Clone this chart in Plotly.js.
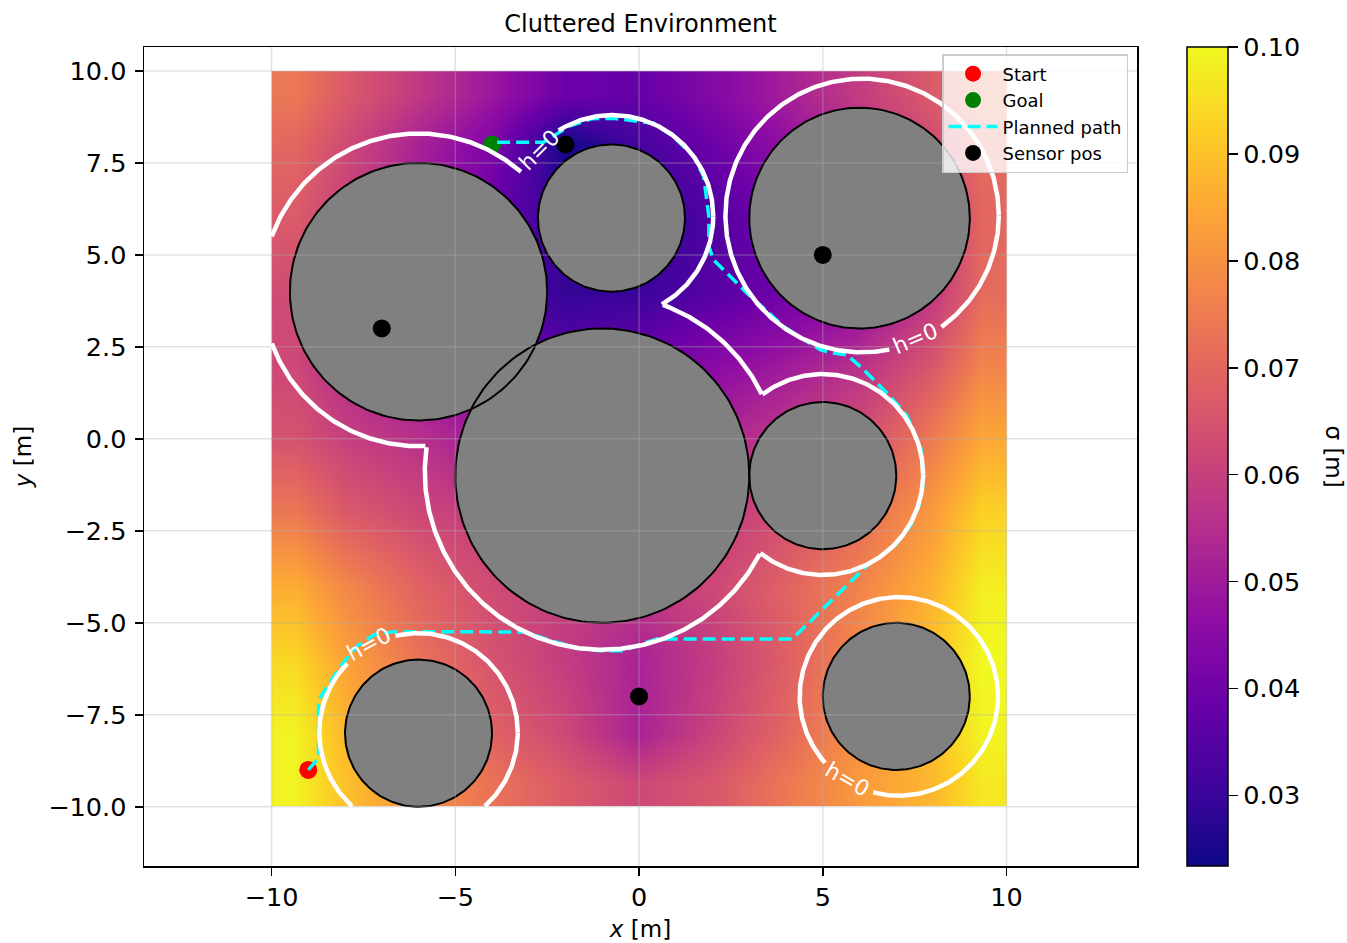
<!DOCTYPE html>
<html><head><meta charset="utf-8">
<script src="https://cdn.plot.ly/plotly-3.0.1.min.js"></script>
<style>html,body{margin:0;padding:0;background:#fff}</style>
</head><body><div id="chart" style="width:1347px;height:943px"></div>
<script>
const gridX = [-9.33, -8, -6, -4, -2, 0, 2, 4, 6, 8, 9.33];
const gridY = [-9.33, -8, -6, -4, -2, 0, 2, 4, 6, 8, 9.33];
// rows: bottom (y=-9.33) to top (y=9.33); columns: x = gridX
const sigma = [
  [0.099,0.090,0.080,0.073,0.067,0.062,0.066,0.074,0.082,0.088,0.097],
  [0.099,0.088,0.078,0.069,0.062,0.052,0.061,0.070,0.080,0.090,0.099],
  [0.094,0.084,0.073,0.065,0.059,0.052,0.059,0.068,0.078,0.090,0.100],
  [0.086,0.078,0.069,0.063,0.059,0.058,0.062,0.069,0.077,0.087,0.098],
  [0.074,0.067,0.062,0.058,0.055,0.055,0.058,0.064,0.071,0.082,0.093],
  [0.065,0.060,0.056,0.050,0.048,0.049,0.053,0.058,0.064,0.075,0.085],
  [0.062,0.055,0.048,0.042,0.037,0.040,0.045,0.050,0.056,0.066,0.077],
  [0.063,0.056,0.045,0.036,0.029,0.030,0.035,0.040,0.046,0.058,0.071],
  [0.067,0.060,0.050,0.038,0.029,0.027,0.034,0.041,0.050,0.058,0.070],
  [0.070,0.063,0.052,0.043,0.024,0.032,0.039,0.047,0.055,0.063,0.071],
  [0.074,0.067,0.058,0.049,0.039,0.038,0.044,0.051,0.059,0.067,0.074]
];
const sigmaMin = 0.0234, sigmaMax = 0.100;
const cbTicks = [0.03, 0.04, 0.05, 0.06, 0.07, 0.08, 0.09, 0.10];

// ---- obstacles ----
const obsX = [-6, -0.75, 6, -1, 5, 7, -6];
const obsY = [4, 6, 6, -1, -1, -7, -8];
const obsR = [3.5, 2, 3, 4, 2, 2, 2];

// ---- safety boundary h=0 (one ring per obstacle) ----
const ringX = [-6.0, -0.73, 6.07, -1.0, 5.0, 7.07, -6.0];
const ringY = [4.05, 6.05, 6.07, -0.9, -0.97, -7.0, -7.98];
const ringR = [4.25, 2.75, 3.72, 4.83, 2.73, 2.70, 2.70];
const labelX = [-2.73, 7.52, -7.36, 5.67];
const labelY = [7.85, 2.74, -5.6, -9.27];
const labelAngle = [-45, -23, -28, 30];
const labelText = 'h=0';

// ---- sensors, start, goal ----
const sensX = [-2, 5, -7, 0];
const sensY = [8, 5, 3, -7];
const startPt = [-9, -9];
const goalPt = [-4, 8];

// ---- planned path (start -> goal) ----
const pathX = [-9, -8.72, -8.72, -8.49, -8.13, -7.68, -7.22, -6.68, -3.14, -2.6, -1.69, -1.05, -0.42, 0.13, 0.49, 4.17, 5.48, 6.2, 6.95, 7.39, 7.67, 7.76, 7.67, 7.30, 6.84, 6.39, 6.03, 5.66, 5.30, 4.94, 4.49, 3.94, 2.94, 2.03, 1.90, 1.90, 1.76, 1.49, 0.94, 0.40, -0.69, -1.3, -1.9, -2.6, -4];
const pathY = [-9, -8.68, -7.1, -6.73, -6.19, -5.64, -5.33, -5.24, -5.25, -5.42, -5.69, -5.76, -5.76, -5.55, -5.44, -5.44, -4.15, -3.45, -2.92, -2.35, -1.68, -0.97, -0.26, 0.61, 1.15, 1.60, 1.96, 2.28, 2.33, 2.42, 2.69, 3.05, 3.96, 4.86, 5.23, 6.04, 7.13, 7.67, 8.21, 8.58, 8.71, 8.7, 8.5, 8.06, 8.06];

// ---- axes ----
const xTicks = [-10, -5, 0, 5, 10];
const yTicks = [-10, -7.5, -5, -2.5, 0, 2.5, 5, 7.5, 10];
const xRange = [-13.47, 13.55];
const yRange = [-11.61, 10.65];
const domain = [-10, 10];

const plasma = [
  [0.0,'#0d0887'],[0.1,'#41049d'],[0.2,'#6a00a8'],[0.3,'#8f0da4'],[0.4,'#b12a90'],
  [0.5,'#cc4778'],[0.6,'#e16462'],[0.7,'#f2844b'],[0.8,'#fca636'],[0.9,'#fcce25'],[1.0,'#f0f921']
];
const FONT = 'DejaVu Sans, Arial, sans-serif';
const TICKSIZE = 25.5;

// obstacle polygons
const cx = [], cy = [];
obsX.forEach((ox, i) => {
  for (let k = 0; k <= 180; k++) {
    const t = 2 * Math.PI * k / 180;
    cx.push(ox + obsR[i] * Math.cos(t));
    cy.push(obsY[i] + obsR[i] * Math.sin(t));
  }
  cx.push(null); cy.push(null);
});

// union boundary of rings, clipped to domain and label gaps
const gap = 0.76;
const hx = [], hy = [];
ringX.forEach((rx, i) => {
  const N = 720;
  let prevVisible = false;
  for (let k = 0; k <= N; k++) {
    const t = 2 * Math.PI * k / N;
    const px = rx + ringR[i] * Math.cos(t), py = ringY[i] + ringR[i] * Math.sin(t);
    let vis = px >= domain[0] && px <= domain[1] && py >= domain[0] && py <= domain[1];
    for (let j = 0; vis && j < ringX.length; j++) {
      if (j !== i && Math.hypot(px - ringX[j], py - ringY[j]) < ringR[j]) vis = false;
    }
    for (let m = 0; vis && m < labelX.length; m++) {
      if (Math.hypot(px - labelX[m], py - labelY[m]) < gap) vis = false;
    }
    if (vis) { hx.push(px); hy.push(py); }
    else if (prevVisible) { hx.push(null); hy.push(null); }
    prevVisible = vis;
  }
  hx.push(null); hy.push(null);
});

// grid lines (matplotlib draws them above image/patches)
const gx = [], gy = [];
xTicks.forEach(v => { gx.push(v, v, null); gy.push(yRange[0], yRange[1], null); });
yTicks.forEach(v => { gx.push(xRange[0], xRange[1], null); gy.push(v, v, null); });

const traces = [
  { type: 'heatmap', x: gridX, y: gridY, z: sigma, zsmooth: 'best', colorscale: plasma,
    zmin: sigmaMin, zmax: sigmaMax, hoverinfo: 'skip', showlegend: false,
    colorbar: { x: (1187 - 144) / 993, xanchor: 'left', xpad: 0, ypad: 0, y: 0.5, yanchor: 'middle',
      len: 1, lenmode: 'fraction', thickness: 41, thicknessmode: 'pixels',
      outlinecolor: 'black', outlinewidth: 1.5, ticks: 'outside', ticklen: 10, tickwidth: 1.5,
      tickcolor: 'black', tickvals: cbTicks, tickformat: '.2f', tickprefix: '\u2009',
      tickfont: { size: TICKSIZE, family: FONT, color: 'black' } } },
  { type: 'scatter', mode: 'lines', x: cx, y: cy, fill: 'toself', fillcolor: '#808080',
    line: { color: 'black', width: 2 }, hoverinfo: 'skip', showlegend: false },
  { type: 'scatter', mode: 'lines', x: gx, y: gy, line: { color: 'rgba(176,176,176,0.35)', width: 1.5 },
    hoverinfo: 'skip', showlegend: false },
  { type: 'scatter', mode: 'markers', name: 'Start', x: [startPt[0]], y: [startPt[1]],
    marker: { color: 'red', size: 18 } },
  { type: 'scatter', mode: 'markers', name: 'Goal', x: [goalPt[0]], y: [goalPt[1]],
    marker: { color: 'green', size: 18 } },
  { type: 'scatter', mode: 'lines', name: 'Planned path', x: pathX, y: pathY,
    line: { color: '#00ffff', width: 3.5, dash: '13px,6px' } },
  { type: 'scatter', mode: 'lines', x: hx, y: hy, line: { color: 'white', width: 4.5 },
    hoverinfo: 'skip', showlegend: false },
  { type: 'scatter', mode: 'markers', name: 'Sensor pos', x: sensX, y: sensY,
    marker: { color: 'black', size: 18 } }
];

const annotations = labelX.map((lx, i) => ({
  x: lx, y: labelY[i], xref: 'x', yref: 'y', text: labelText, showarrow: false,
  xanchor: 'center', yanchor: 'middle',
  textangle: labelAngle[i], font: { size: 22, color: 'white', family: FONT }
}));
annotations.push({ x: (1334 - 144) / 993, y: 0.5, xref: 'paper', yref: 'paper', text: 'σ [m]',
  xanchor: 'center', yanchor: 'middle',
  showarrow: false, textangle: 90, font: { size: 23, color: 'black', family: FONT } });

const axisCommon = {
  showline: true, mirror: true, linecolor: 'black', linewidth: 1.5,
  ticks: 'outside', ticklen: 8, tickwidth: 1.5, tickcolor: 'black',
  showgrid: false, zeroline: false, tickfont: { size: TICKSIZE, family: FONT, color: 'black' }
};

const layout = {
  width: 1347, height: 943,
  margin: { l: 144, r: 210, t: 47, b: 77 },
  paper_bgcolor: 'white', plot_bgcolor: 'white',
  font: { family: FONT, color: 'black' },
  title: { text: 'Cluttered Environment', font: { size: 24, family: FONT, color: 'black' },
    x: 0.5, xref: 'paper', xanchor: 'center', y: 1 - 24 / 943, yref: 'container', yanchor: 'middle' },
  xaxis: Object.assign({}, axisCommon, { range: xRange, tickvals: xTicks,
    title: { text: '<i>x</i> [m]', font: { size: 23, family: FONT }, standoff: 10 } }),
  yaxis: Object.assign({}, axisCommon, { range: yRange, tickvals: yTicks, tickformat: '.1f',
    ticklabelstandoff: 3,
    title: { text: '<i>y</i> [m]', font: { size: 23, family: FONT }, standoff: 10 } }),
  legend: { x: 0.991, y: 1 - (54 - 47) / 819, xanchor: 'right', yanchor: 'top',
    bgcolor: 'rgba(255,255,255,0.8)', itemwidth: 49,
    bordercolor: '#cccccc', borderwidth: 1.5, font: { size: 18, family: FONT, color: 'black' } },
  annotations: annotations,
  showlegend: true
};

Plotly.newPlot('chart', traces, layout, { displayModeBar: false, staticPlot: true });
</script>
</body></html>
